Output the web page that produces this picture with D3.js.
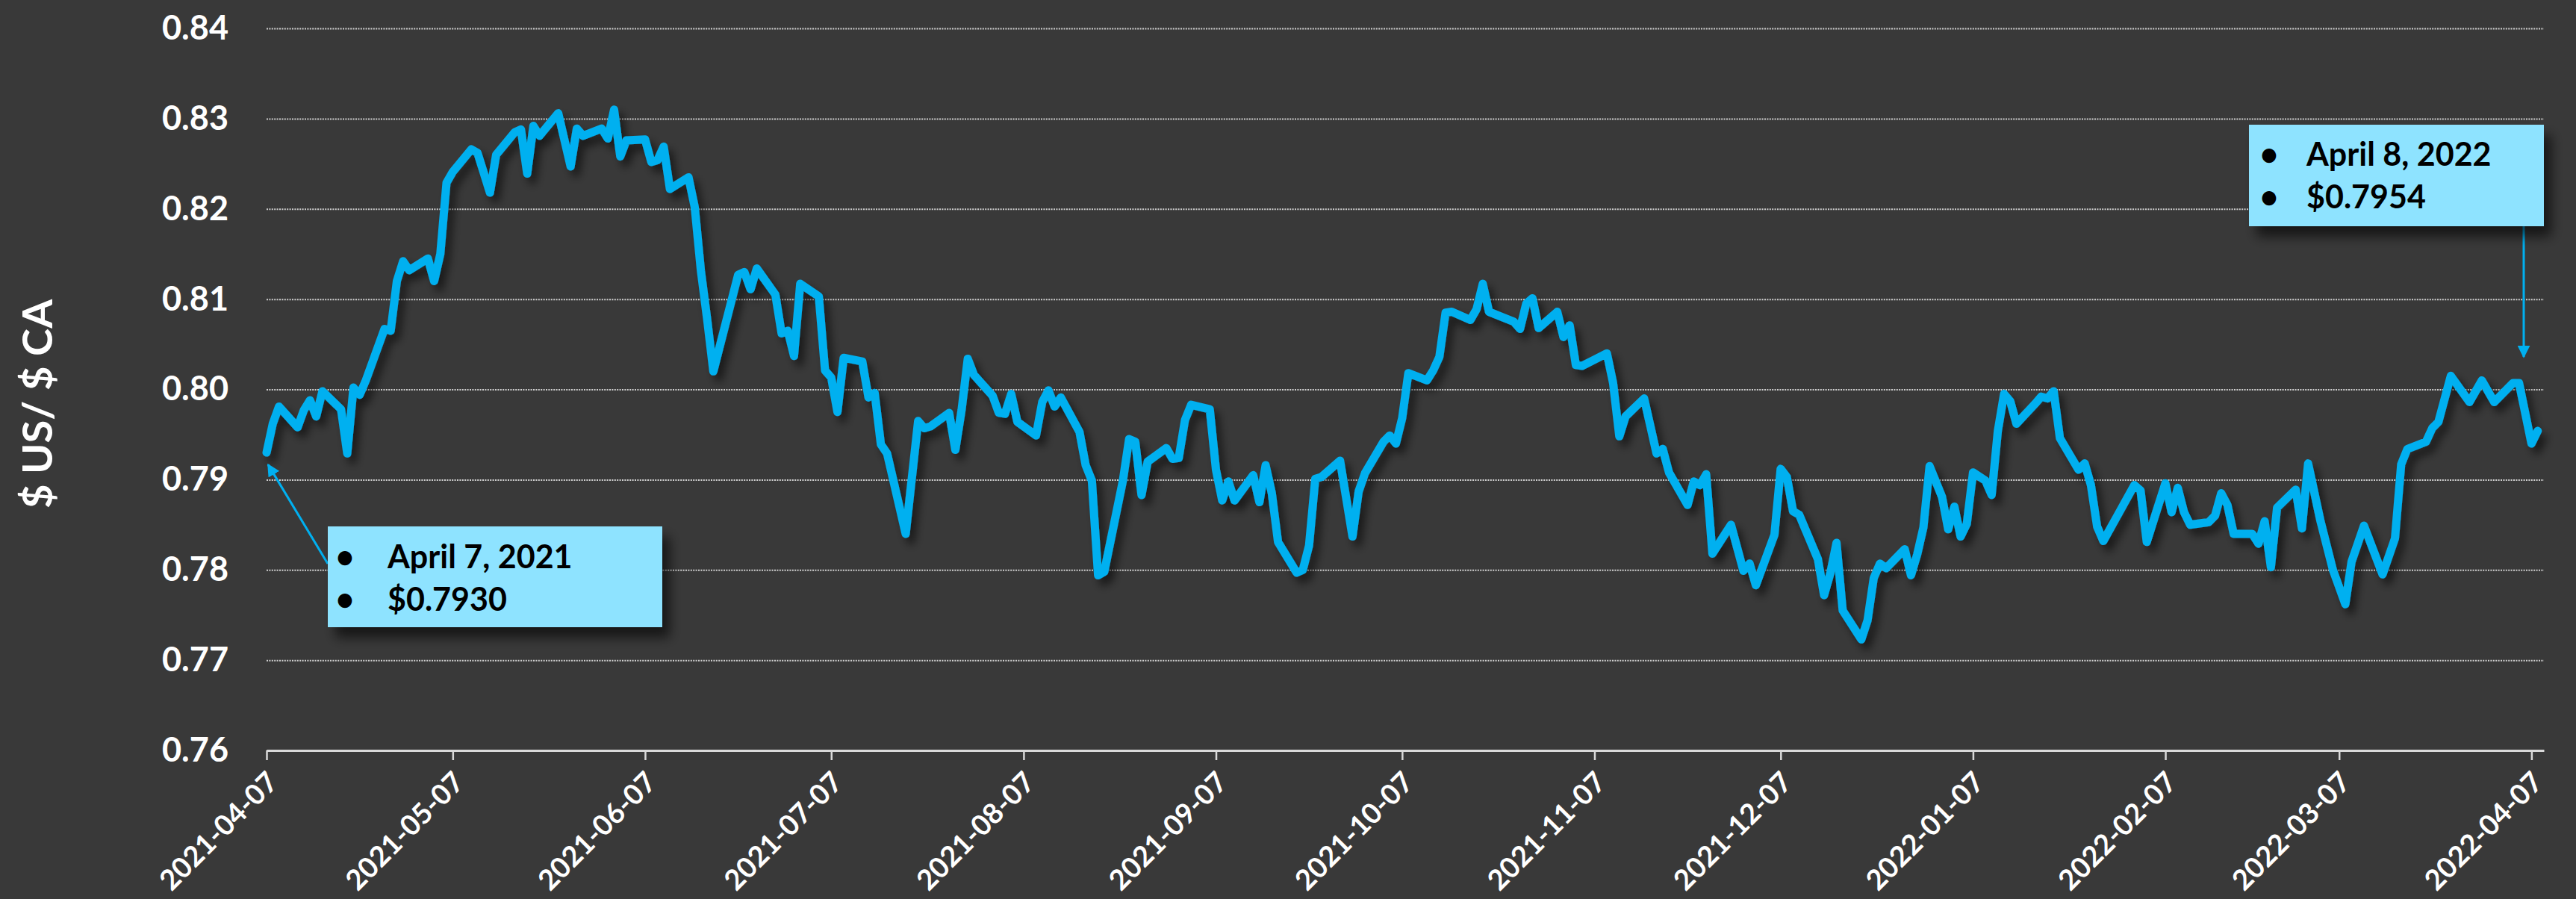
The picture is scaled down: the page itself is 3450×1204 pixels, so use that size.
<!DOCTYPE html>
<html>
<head>
<meta charset="utf-8">
<script src="https://cdn.jsdelivr.net/npm/d3@7"></script>
<style>
  html, body { margin: 0; padding: 0; background: #393939; }
  svg { display: block; font-family: Lato, "Open Sans", sans-serif; font-weight: bold; }
</style>
</head>
<body>
<script>
const w = 3450;
const h = 1204;

// daily USD per CAD
const dates = [
  "2021-04-07","2021-04-08","2021-04-09","2021-04-12","2021-04-13","2021-04-14","2021-04-15","2021-04-16","2021-04-19","2021-04-20",
  "2021-04-21","2021-04-22","2021-04-23","2021-04-26","2021-04-27","2021-04-28","2021-04-29","2021-04-30","2021-05-03","2021-05-04",
  "2021-05-05","2021-05-06","2021-05-07","2021-05-10","2021-05-11","2021-05-13","2021-05-14","2021-05-17","2021-05-18","2021-05-19",
  "2021-05-20","2021-05-21","2021-05-24","2021-05-26","2021-05-27","2021-05-28","2021-05-31","2021-06-01","2021-06-02","2021-06-03",
  "2021-06-04","2021-06-07","2021-06-08","2021-06-09","2021-06-10","2021-06-11","2021-06-14","2021-06-15","2021-06-16","2021-06-17",
  "2021-06-18","2021-06-22","2021-06-23","2021-06-24","2021-06-25","2021-06-28","2021-06-29","2021-06-30","2021-07-01","2021-07-02",
  "2021-07-05","2021-07-06","2021-07-07","2021-07-08","2021-07-09","2021-07-12","2021-07-13","2021-07-14","2021-07-15","2021-07-16",
  "2021-07-19","2021-07-21","2021-07-22","2021-07-23","2021-07-26","2021-07-27","2021-07-28","2021-07-29","2021-07-30","2021-08-02",
  "2021-08-03","2021-08-04","2021-08-05","2021-08-06","2021-08-09","2021-08-10","2021-08-11","2021-08-12","2021-08-13","2021-08-16",
  "2021-08-17","2021-08-18","2021-08-19","2021-08-20","2021-08-23","2021-08-24","2021-08-25","2021-08-26","2021-08-27","2021-08-30",
  "2021-08-31","2021-09-01","2021-09-02","2021-09-03","2021-09-06","2021-09-07","2021-09-08","2021-09-09","2021-09-10","2021-09-13",
  "2021-09-14","2021-09-15","2021-09-16","2021-09-17","2021-09-20","2021-09-21","2021-09-22","2021-09-23","2021-09-24","2021-09-27",
  "2021-09-29","2021-09-30","2021-10-01","2021-10-04","2021-10-05","2021-10-06","2021-10-07","2021-10-08","2021-10-11","2021-10-12",
  "2021-10-13","2021-10-14","2021-10-15","2021-10-18","2021-10-19","2021-10-20","2021-10-21","2021-10-25","2021-10-26","2021-10-27",
  "2021-10-28","2021-10-29","2021-11-01","2021-11-02","2021-11-03","2021-11-04","2021-11-05","2021-11-09","2021-11-10","2021-11-11",
  "2021-11-12","2021-11-15","2021-11-17","2021-11-18","2021-11-19","2021-11-22","2021-11-23","2021-11-24","2021-11-25","2021-11-26",
  "2021-11-29","2021-12-01","2021-12-02","2021-12-03","2021-12-06","2021-12-07","2021-12-08","2021-12-09","2021-12-10","2021-12-13",
  "2021-12-14","2021-12-15","2021-12-16","2021-12-17","2021-12-20","2021-12-21","2021-12-22","2021-12-23","2021-12-24","2021-12-27",
  "2021-12-28","2021-12-29","2021-12-30","2021-12-31","2022-01-02","2022-01-03","2022-01-04","2022-01-05","2022-01-06","2022-01-07",
  "2022-01-09","2022-01-10","2022-01-11","2022-01-12","2022-01-13","2022-01-14","2022-01-17","2022-01-18","2022-01-19","2022-01-20",
  "2022-01-21","2022-01-24","2022-01-25","2022-01-26","2022-01-27","2022-01-28","2022-02-02","2022-02-03","2022-02-04","2022-02-07",
  "2022-02-08","2022-02-09","2022-02-10","2022-02-11","2022-02-14","2022-02-15","2022-02-16","2022-02-17","2022-02-18","2022-02-21",
  "2022-02-22","2022-02-23","2022-02-24","2022-02-25","2022-02-28","2022-03-01","2022-03-02","2022-03-04","2022-03-06","2022-03-08",
  "2022-03-09","2022-03-11","2022-03-14","2022-03-16","2022-03-17","2022-03-18","2022-03-21","2022-03-22","2022-03-23","2022-03-25",
  "2022-03-28","2022-03-30","2022-04-01","2022-04-04","2022-04-05","2022-04-07","2022-04-08"
];
const rates = [
  0.7930,0.7962,0.7981,0.7958,0.7977,0.7988,0.7970,0.7998,0.7978,0.7929,
  0.8002,0.7994,0.8010,0.8067,0.8065,0.8120,0.8142,0.8132,0.8145,0.8120,
  0.8150,0.8229,0.8241,0.8266,0.8262,0.8218,0.8260,0.8285,0.8288,0.8239,
  0.8292,0.8281,0.8306,0.8247,0.8289,0.8281,0.8289,0.8278,0.8310,0.8258,
  0.8276,0.8277,0.8252,0.8254,0.8269,0.8222,0.8235,0.8202,0.8131,0.8078,
  0.8020,0.8127,0.8130,0.8111,0.8134,0.8105,0.8062,0.8065,0.8037,0.8117,
  0.8103,0.8021,0.8013,0.7975,0.8035,0.8031,0.7991,0.7996,0.7939,0.7929,
  0.7840,0.7965,0.7957,0.7959,0.7974,0.7933,0.7977,0.8034,0.8016,0.7993,
  0.7974,0.7973,0.7995,0.7964,0.7949,0.7986,0.7999,0.7981,0.7991,0.7953,
  0.7916,0.7899,0.7794,0.7798,0.7899,0.7945,0.7942,0.7883,0.7920,0.7935,
  0.7923,0.7924,0.7966,0.7983,0.7978,0.7911,0.7877,0.7898,0.7877,0.7905,
  0.7875,0.7916,0.7885,0.7831,0.7797,0.7800,0.7827,0.7901,0.7903,0.7921,
  0.7837,0.7887,0.7907,0.7942,0.7949,0.7940,0.7968,0.8018,0.8010,0.8021,
  0.8036,0.8085,0.8086,0.8077,0.8089,0.8117,0.8086,0.8075,0.8067,0.8095,
  0.8101,0.8068,0.8086,0.8058,0.8071,0.8027,0.8026,0.8040,0.8007,0.7948,
  0.7970,0.7990,0.7929,0.7934,0.7908,0.7872,0.7898,0.7894,0.7906,0.7818,
  0.7850,0.7799,0.7807,0.7783,0.7839,0.7912,0.7903,0.7865,0.7861,0.7812,
  0.7772,0.7796,0.7830,0.7755,0.7723,0.7744,0.7791,0.7807,0.7802,0.7823,
  0.7794,0.7817,0.7847,0.7915,0.7881,0.7845,0.7870,0.7837,0.7851,0.7908,
  0.7899,0.7883,0.7954,0.7995,0.7987,0.7962,0.7984,0.7992,0.7990,0.7998,
  0.7946,0.7911,0.7918,0.7894,0.7848,0.7832,0.7894,0.7888,0.7831,0.7896,
  0.7864,0.7891,0.7864,0.7850,0.7853,0.7860,0.7885,0.7872,0.7840,0.7840,
  0.7829,0.7854,0.7803,0.7869,0.7889,0.7846,0.7918,0.7854,0.7800,0.7762,
  0.7809,0.7849,0.7795,0.7835,0.7917,0.7934,0.7942,0.7957,0.7964,0.8015,
  0.7986,0.8010,0.7986,0.8007,0.8007,0.7940,0.7954
];

const tickDates = ["2021-04-07","2021-05-07","2021-06-07","2021-07-07","2021-08-07","2021-09-07",
                   "2021-10-07","2021-11-07","2021-12-07","2022-01-07","2022-02-07","2022-03-07","2022-04-07"];
const yTicks = [0.76, 0.77, 0.78, 0.79, 0.80, 0.81, 0.82, 0.83, 0.84];
const yTitle = "$ US/ $ CA";
const firstNote = ["April 7, 2021", "$0.7930"];
const lastNote = ["April 8, 2022", "$0.7954"];

const margin = {top: 38, right: 43, bottom: 199, left: 357};
const lineColor = "#00b0f0";
const boxColor = "#8ee3ff";

const parse = d3.timeParse("%Y-%m-%d");
const data = dates.map((d, i) => ({date: parse(d), rate: rates[i]}));

const svg = d3.select("body")
              .append("svg")
              .attr("width", w)
              .attr("height", h);

svg.append("rect")
   .attr("width", w)
   .attr("height", h)
   .attr("fill", "#393939");

const defs = svg.append("defs");
defs.append("filter")
    .attr("id", "lineShadow")
    .attr("x", "-5%").attr("y", "-20%").attr("width", "110%").attr("height", "140%")
    .append("feDropShadow")
    .attr("dx", 7).attr("dy", 9).attr("stdDeviation", 6)
    .attr("flood-color", "#000").attr("flood-opacity", 0.55);
defs.append("filter")
    .attr("id", "boxShadow")
    .attr("x", "-10%").attr("y", "-20%").attr("width", "130%").attr("height", "160%")
    .append("feDropShadow")
    .attr("dx", 10).attr("dy", 14).attr("stdDeviation", 8)
    .attr("flood-color", "#000").attr("flood-opacity", 0.6);
defs.append("marker")
    .attr("id", "arrow")
    .attr("viewBox", "0 0 10 10")
    .attr("refX", 9).attr("refY", 5)
    .attr("markerWidth", 17).attr("markerHeight", 17)
    .attr("markerUnits", "userSpaceOnUse")
    .attr("orient", "auto")
    .append("path")
    .attr("d", "M0,0L10,5L0,10Z")
    .attr("fill", lineColor);

const xScale = d3.scaleTime()
    .domain([parse("2021-04-07"), parse("2022-04-09")])
    .range([margin.left, w - margin.right]);

const yScale = d3.scaleLinear()
    .domain([0.76, 0.84])
    .range([h - margin.bottom, margin.top]);

// y axis: labels + dotted gridlines
const yAxis = d3.axisLeft(yScale)
    .tickValues(yTicks)
    .tickFormat(d3.format(".2f"))
    .tickSize(-(w - margin.left - margin.right))
    .tickPadding(51);

const gy = svg.append("g")
    .attr("transform", "translate(" + margin.left + ",0)")
    .call(yAxis);
gy.select(".domain").remove();
gy.selectAll(".tick line")
  .attr("stroke", "#cfcfcf")
  .attr("stroke-width", 2)
  .attr("stroke-dasharray", "2 1.4");
gy.selectAll(".tick text")
  .attr("fill", "#fff")
  .attr("font-size", 45)
  .attr("font-weight", "bold")
  .attr("font-family", "Lato, 'Open Sans', sans-serif");

// x axis
const xAxis = d3.axisBottom(xScale)
    .tickValues(tickDates.map(parse))
    .tickFormat(d3.timeFormat("%Y-%m-%d"))
    .tickSize(13)
    .tickSizeOuter(0);

const gx = svg.append("g")
    .attr("transform", "translate(0," + (h - margin.bottom) + ")")
    .call(xAxis);
gx.select(".domain")
  .attr("stroke", "#d9d9d9")
  .attr("stroke-width", 3);
gx.selectAll(".tick line")
  .attr("stroke", "#d9d9d9")
  .attr("stroke-width", 2.5);
gx.selectAll(".tick text")
  .attr("fill", "#fff")
  .attr("font-size", 38)
  .attr("font-weight", "bold")
  .attr("font-family", "Lato, 'Open Sans', sans-serif")
  .attr("text-anchor", "end")
  .attr("x", 0).attr("y", 0).attr("dy", 0)
  .attr("transform", "translate(17,45) rotate(-45)");

svg.append("text")
   .attr("transform", "translate(70," + 541 + ") rotate(-90)")
   .attr("text-anchor", "middle")
   .attr("fill", "#fff")
   .attr("font-size", 56)
   .text(yTitle);

// series
svg.append("path")
   .datum(data)
   .attr("fill", "none")
   .attr("stroke", lineColor)
   .attr("stroke-width", 11)
   .attr("stroke-linejoin", "round")
   .attr("stroke-linecap", "round")
   .attr("filter", "url(#lineShadow)")
   .attr("d", d3.line()
     .x(d => xScale(d.date))
     .y(d => yScale(d.rate))
   );

// callouts
function callout(box, lines) {
  const g = svg.append("g");
  g.append("rect")
   .attr("x", box.x).attr("y", box.y)
   .attr("width", box.w).attr("height", box.h)
   .attr("fill", boxColor)
   .attr("filter", "url(#boxShadow)");
  lines.forEach((t, i) => {
    g.append("text")
     .attr("x", box.x + box.bullet)
     .attr("y", box.y + box.first + i * 57)
     .attr("text-anchor", "middle")
     .attr("font-size", 43)
     .attr("fill", "#000")
     .text("\u2022");
    g.append("text")
     .attr("x", box.x + box.text)
     .attr("y", box.y + box.first + i * 57)
     .attr("font-size", 43)
     .attr("fill", "#000")
     .text(t);
  });
}

const first = data[0];

svg.append("line")
   .attr("x1", 439).attr("y1", 755)
   .attr("x2", xScale(first.date) + 2).attr("y2", yScale(first.rate) + 16)
   .attr("stroke", lineColor)
   .attr("stroke-width", 3)
   .attr("marker-end", "url(#arrow)");
callout({x: 439, y: 705, w: 448, h: 135, bullet: 23, text: 80, first: 56}, firstNote);

svg.append("line")
   .attr("x1", 3380).attr("y1", 303)
   .attr("x2", 3380).attr("y2", 478)
   .attr("stroke", lineColor)
   .attr("stroke-width", 3)
   .attr("marker-end", "url(#arrow)");
callout({x: 3012, y: 167, w: 395, h: 136, bullet: 27, text: 77, first: 55}, lastNote);
</script>
</body>
</html>
